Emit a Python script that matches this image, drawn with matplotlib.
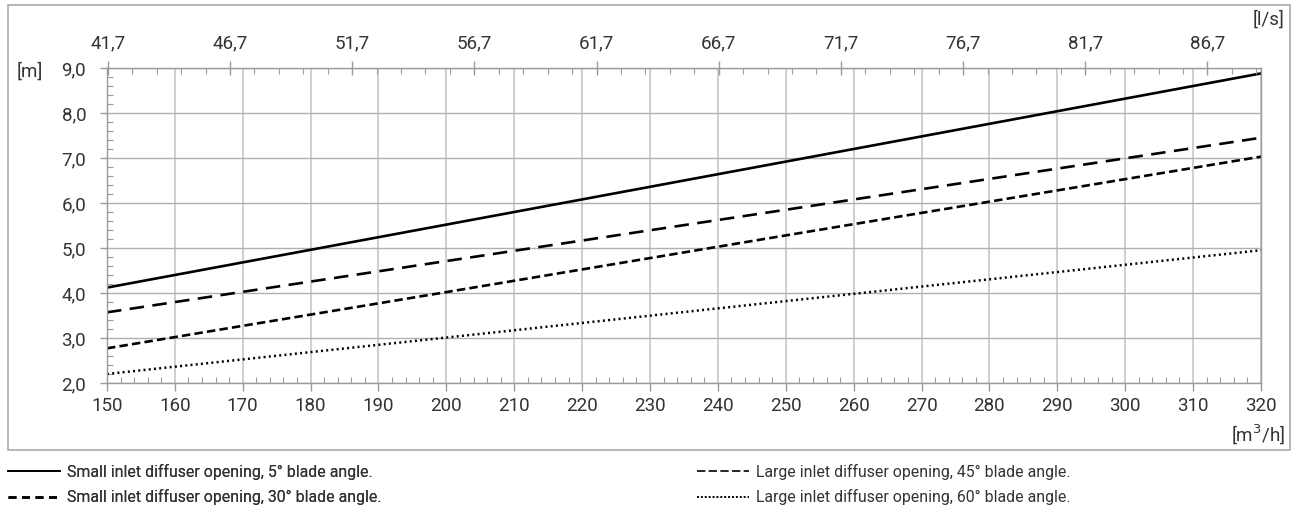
import numpy as np
import matplotlib.pyplot as plt
from matplotlib.lines import Line2D
from matplotlib.patches import Rectangle
from matplotlib.ticker import MultipleLocator, FixedLocator

plt.rcParams['font.family'] = ['Roboto', 'DejaVu Sans']

# data
flow = [150, 200, 250, 320]                      # m3/h
small_5 = [4.12, 5.52, 6.92, 8.88]
small_30 = [3.57, 4.71, 5.85, 7.45]
large_45 = [2.77, 4.02, 5.28, 7.03]
large_60 = [2.20, 3.01, 3.82, 4.95]

y_ticks = [2, 3, 4, 5, 6, 7, 8, 9]
y_labels = ['2,0', '3,0', '4,0', '5,0', '6,0', '7,0', '8,0', '9,0']
ls_ticks = [41.7, 46.7, 51.7, 56.7, 61.7, 66.7, 71.7, 76.7, 81.7, 86.7]
ls_labels = ['41,7', '46,7', '51,7', '56,7', '61,7', '66,7', '71,7', '76,7', '81,7', '86,7']
labels = ['Small inlet diffuser opening, 5° blade angle.',
          'Small inlet diffuser opening, 30° blade angle.',
          'Large inlet diffuser opening, 45° blade angle.',
          'Large inlet diffuser opening, 60° blade angle.']

txt = '#333333'
spine = '#9a9a9a'

fig = plt.figure(figsize=(12.95, 5.08), dpi=100)
ax = fig.add_axes([0.0826, 0.2461, 0.8911, 0.62])

# outer frame
fig.patches.append(Rectangle((8 / 1295, 1 - 450 / 508), 1282 / 1295, 445 / 508,
                             transform=fig.transFigure, fill=False,
                             edgecolor='#aaaaaa', lw=1.2))

ax.plot(flow, small_5, color='k', lw=1.9, solid_capstyle='butt')
ax.plot(flow, small_30, color='k', lw=1.9, ls=(0, (5.5, 3.2)))
ax.plot(flow, large_45, color='k', lw=1.9, ls=(0, (3.2, 1.6)))
ax.plot(flow, large_60, color='k', lw=1.8, ls=(0, (0.8, 1.3)))

ax.xaxis.set_major_locator(MultipleLocator(10))
ax.xaxis.set_minor_locator(MultipleLocator(2))
ax.set_yticks(y_ticks)
ax.set_yticklabels(y_labels)
ax.yaxis.set_minor_locator(MultipleLocator(0.2))
ax.set_xlim(150, 320)
ax.set_ylim(2, 9)

ax.grid(axis='x', which='major', color='#cfcfcf', lw=1.4)
ax.grid(axis='y', which='major', color='#b0b0b0', lw=1.0)
ax.set_axisbelow(True)

for s in ax.spines.values():
    s.set_color(spine)
    s.set_linewidth(1.0)

ax.tick_params(axis='x', which='major', direction='out', length=6, width=1,
               color=spine, labelsize=13.5, labelcolor=txt, pad=4)
ax.tick_params(axis='x', which='minor', direction='in', length=4, width=0.8, color=spine)
ax.tick_params(axis='y', which='major', direction='out', length=5, width=1,
               color=spine, labelsize=13.5, labelcolor=txt, pad=10)
ax.tick_params(axis='y', which='minor', direction='in', length=4, width=0.8, color=spine)

# top l/s axis
top = ax.twiny()
top.set_xlim(150, 320)
top.xaxis.set_major_locator(FixedLocator([v * 3.6 for v in ls_ticks]))
top.set_xticklabels(ls_labels)
top.xaxis.set_minor_locator(FixedLocator([(41.7 + i) * 3.6 for i in range(48) if (41.7 + i) * 3.6 <= 320]))
top.tick_params(axis='x', which='major', direction='inout', length=10, width=1,
                color=spine, labelsize=13.5, labelcolor=txt, pad=6)
top.tick_params(axis='x', which='minor', direction='in', length=4, width=0.8, color=spine)
for s in top.spines.values():
    s.set_visible(False)

fig.text(30 / 1295, 1 - 72 / 508, '[m]', fontsize=13.5, color=txt, va='center', ha='center')
fig.text(1284 / 1295, 1 - 20 / 508, '[l/s]', fontsize=13.5, color=txt, va='center', ha='right')
fig.text(1285 / 1295, 1 - 435 / 508, '[m$^3$/h]', fontsize=13.5, color=txt, va='center', ha='right')

# legend
h = [Line2D([], [], color='k', lw=1.3),
     Line2D([], [], color='k', lw=1.8, ls=(0, (3.2, 2.2))),
     Line2D([], [], color='k', lw=1.2, ls=(0, (5, 2))),
     Line2D([], [], color='k', lw=1.4, ls=(0, (1, 1)))]
kw = dict(frameon=False, fontsize=11.4, handlelength=3.3, handletextpad=0.4,
          labelspacing=0.58, borderpad=0, borderaxespad=0, labelcolor=txt, loc='upper left')
leg1 = fig.legend(h[:2], labels[:2], bbox_to_anchor=(8 / 1295, 1 - 464 / 508), **kw)
leg2 = fig.legend(h[2:], labels[2:], bbox_to_anchor=(697 / 1295, 1 - 464 / 508), **kw)
fig.add_artist(leg1)

fig.savefig('out.png', dpi=100)
